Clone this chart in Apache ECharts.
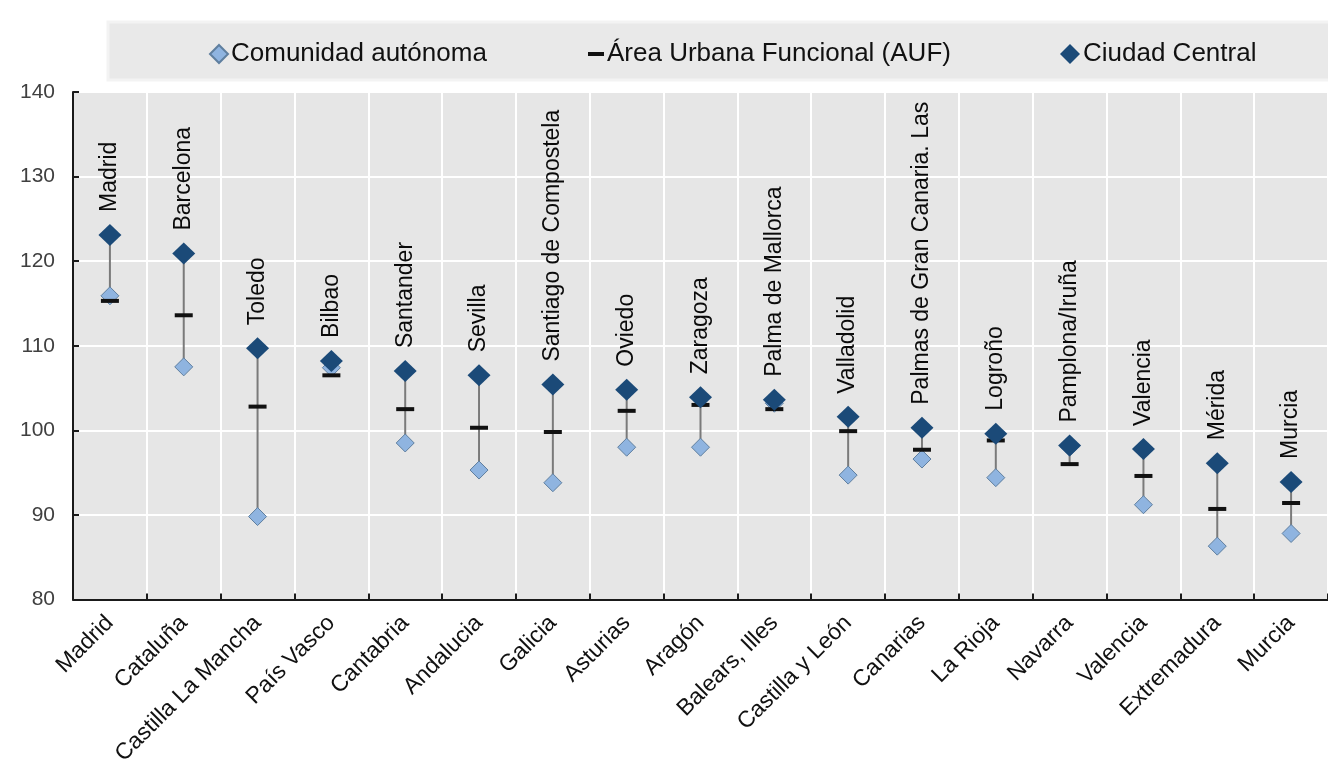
<!DOCTYPE html>
<html>
<head>
<meta charset="utf-8">
<script src="https://cdn.jsdelivr.net/npm/echarts@6/dist/echarts.min.js"></script>
<style>
html,body{margin:0;padding:0;background:#fff;}
#chart{width:1328px;height:768px;}
</style>
</head>
<body>
<div id="chart"></div>
<script>
const regions = ['Madrid','Cataluña','Castilla La Mancha','País Vasco','Cantabria','Andalucia','Galicia','Asturias','Aragón','Balears, Illes','Castilla y León','Canarias','La Rioja','Navarra','Valencia','Extremadura','Murcia'];
const cities = ['Madrid','Barcelona','Toledo','Bilbao','Santander','Sevilla','Santiago de Compostela','Oviedo','Zaragoza','Palma de Mallorca','Valladolid','Palmas de Gran Canaria. Las','Logroño','Pamplona/Iruña','Valencia','Mérida','Murcia'];
const comunidad = [115.9,107.5,89.8,107.4,98.5,95.3,93.8,98.0,98.0,103.2,94.7,96.6,94.4,98.0,91.2,86.3,87.8];
const auf = [115.3,113.6,102.8,106.5,102.5,100.3,99.8,102.3,103.0,102.5,99.9,97.7,98.8,96.0,94.6,90.7,91.4];
const ciudad = [123.1,120.9,109.7,108.2,107.0,106.5,105.4,104.8,103.9,103.6,101.6,100.3,99.6,98.2,97.8,96.1,93.9];
const yTicks = {min:80, max:140, interval:10};

const FONT = "'Liberation Sans', Arial, sans-serif";
const rangeData = regions.map((r,i)=>{
  const v=[comunidad[i],auf[i],ciudad[i]];
  return [i, Math.min(...v), Math.max(...v)];
});

const legendText = {fontSize:26, color:'#111111', fontFamily:FONT, padding:[0,0,0,-2]};
const chart = echarts.init(document.getElementById('chart'), null, {renderer:'canvas'});
chart.setOption({
  animation:false,
  backgroundColor:'#ffffff',
  textStyle:{fontFamily:FONT},
  graphic:[{
    type:'rect', z:-10,
    shape:{x:108,y:22,width:1230,height:58},
    style:{fill:'#e9e9e9', stroke:'#f3f3f3', lineWidth:3}
  }],
  legend:[
    {data:['Comunidad autónoma'], left:204, top:36, itemWidth:18, itemHeight:18, itemGap:0, textStyle:legendText},
    {data:['Área Urbana Funcional (AUF)'], left:583, top:36, itemWidth:16, itemHeight:4, itemGap:0, textStyle:legendText},
    {data:['Ciudad Central'], left:1055, top:36, itemWidth:20, itemHeight:20, itemGap:0, textStyle:legendText}
  ],
  grid:{left:73, top:92, width:1263, height:512, show:true, backgroundColor:'#e6e6e6', borderWidth:0, containLabel:false},
  xAxis:{
    type:'category', data:regions, boundaryGap:true,
    axisLine:{show:true, lineStyle:{color:'#1a1a1a', width:2}},
    axisTick:{show:true, inside:true, length:6, lineStyle:{color:'#1a1a1a', width:2}},
    splitLine:{show:true, lineStyle:{color:'#ffffff', width:2}},
    axisLabel:{rotate:45, fontSize:23, color:'#111111', margin:20, fontFamily:FONT, interval:0}
  },
  yAxis:{
    type:'value', min:yTicks.min, max:yTicks.max, interval:yTicks.interval,
    axisLine:{show:true, lineStyle:{color:'#1a1a1a', width:2}},
    axisTick:{show:true, inside:true, length:6, lineStyle:{color:'#1a1a1a', width:2}},
    splitLine:{show:true, lineStyle:{color:'#ffffff', width:2}},
    axisLabel:{fontSize:21, color:'#404040', margin:18, fontFamily:FONT}
  },
  series:[
    {
      type:'custom', name:'range', z:1, data:rangeData,
      encode:{x:0, y:[1,2]},
      renderItem:function(params, api){
        const x = api.value(0);
        const lo = api.coord([x, api.value(1)]);
        const hi = api.coord([x, api.value(2)]);
        return {type:'line', shape:{x1:lo[0],y1:lo[1],x2:hi[0],y2:hi[1]},
          style:{stroke:'#7a7a7a', lineWidth:2}};
      }
    },
    {
      type:'scatter', name:'Comunidad autónoma', z:2, data:comunidad,
      symbol:'diamond', symbolSize:[18,18],
      itemStyle:{color:'#8fb4e0', borderColor:'#5f7f9f', borderWidth:1, opacity:1}
    },
    {
      type:'scatter', name:'Área Urbana Funcional (AUF)', z:3, data:auf,
      symbol:'rect', symbolSize:[18,4],
      itemStyle:{color:'#111111', opacity:1}
    },
    {
      type:'scatter', name:'Ciudad Central', z:4, data:ciudad,
      symbol:'diamond', symbolSize:[23,22],
      itemStyle:{color:'#1b4a78', opacity:1},
      label:{
        show:true, position:'top', distance:12, rotate:90,
        align:'left', verticalAlign:'middle',
        fontSize:23, color:'#0a0a0a', fontFamily:FONT,
        formatter:function(p){return cities[p.dataIndex];}
      }
    }
  ]
});
</script>
</body>
</html>
